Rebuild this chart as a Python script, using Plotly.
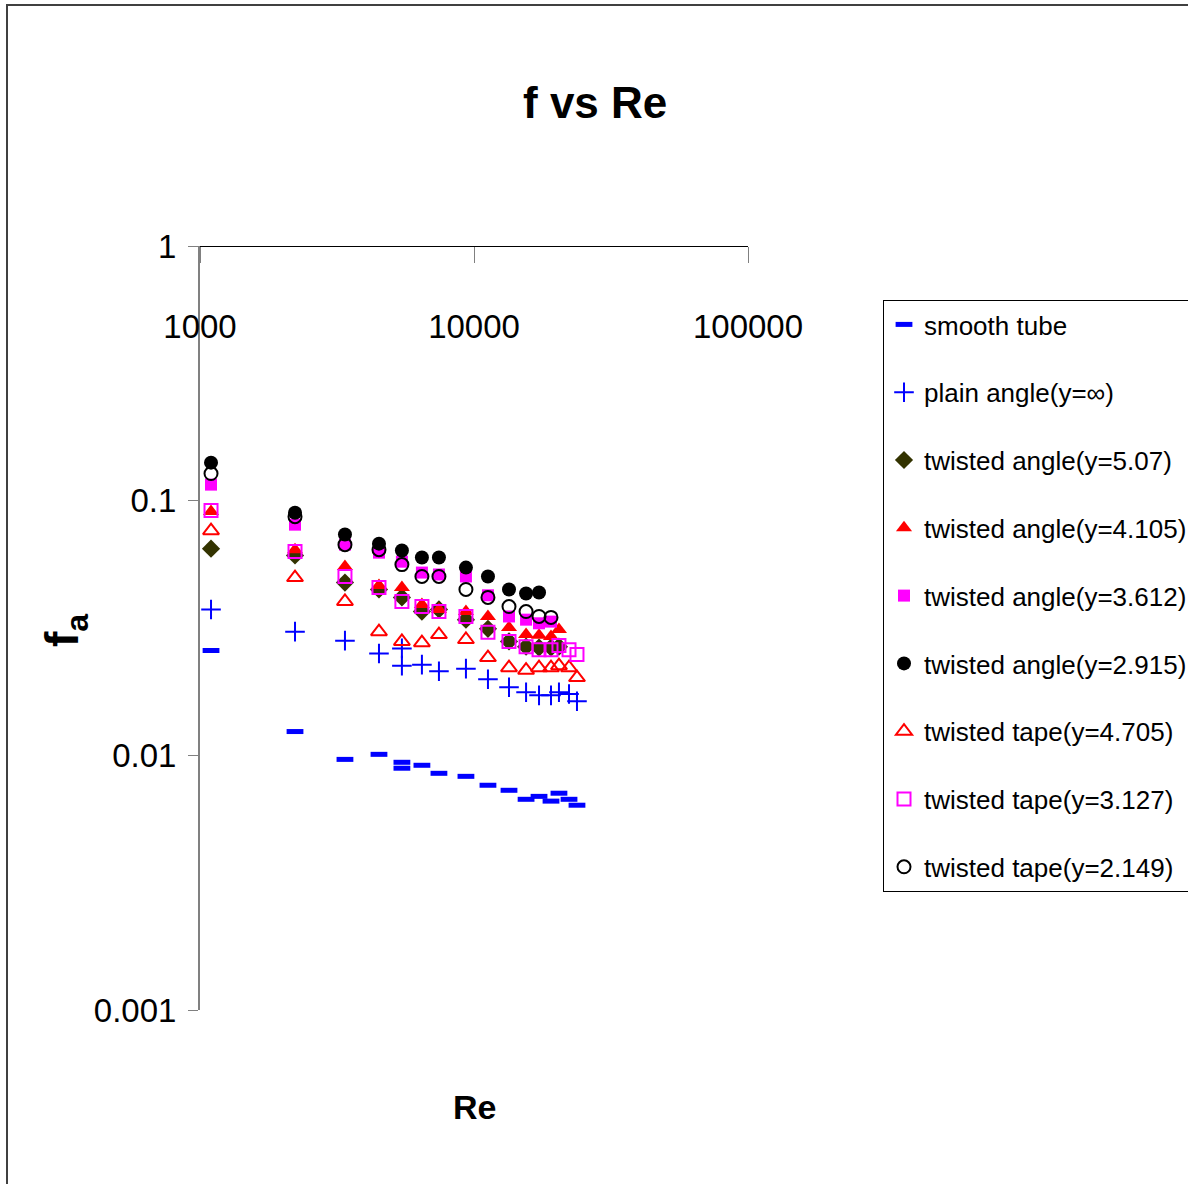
import plotly.graph_objects as go

# ---------------- data ----------------
re_17 = [1097, 2222, 3381, 4500, 5456, 5456, 6455, 7448, 9345, 11245, 13420, 15490, 17270, 19100, 20420, 22220, 23760]
re_16 = [1097, 2222, 3381, 4500, 5456, 6455, 7448, 9345, 11245, 13420, 15490, 17270, 19100, 20420, 22220, 23760]

smooth_tube = [0.0258, 0.0124, 0.00964, 0.01009, 0.00939, 0.00890, 0.00914, 0.00850, 0.00827, 0.00763,
               0.00729, 0.00672, 0.00690, 0.00661, 0.00710, 0.00672, 0.00637]
plain_angle = [0.0374, 0.0306, 0.0282, 0.0251, 0.0263, 0.0225, 0.0227, 0.0214, 0.0219, 0.0199,
               0.0185, 0.0177, 0.0172, 0.0172, 0.0177, 0.0174, 0.0163]
tw_angle_507 = [0.0648, 0.0609, 0.0477, 0.0448, 0.0417, 0.0367, 0.0374, 0.0341, 0.0314, 0.0280,
                0.0267, 0.0265, 0.0265, 0.0267]
tw_angle_4105 = [0.0906, 0.0642, 0.0551, 0.0464, 0.0456, 0.0391, 0.0374, 0.0367, 0.0351, 0.0318,
                 0.0298, 0.0296, 0.0293, 0.0312]
tw_angle_3612 = [0.1156, 0.0805, 0.0672, 0.0625, 0.0576, 0.0522, 0.0513, 0.0504, 0.0425, 0.0351,
                 0.0341, 0.0330, 0.0335]
tw_angle_2915 = [0.141, 0.0897, 0.0736, 0.0678, 0.0637, 0.0598, 0.0598, 0.0546, 0.0504, 0.0448,
                 0.0432, 0.0436]
tw_tape_4705 = [0.0762, 0.0499, 0.0402, 0.0306, 0.0280, 0.0277, 0.0298, 0.0285, 0.0242, 0.0221,
                0.0216, 0.0221, 0.0221, 0.0225, 0.0221, 0.0202]
tw_tape_3127 = [0.0914, 0.0631, 0.0504, 0.0456, 0.0402, 0.0384, 0.0367, 0.0351, 0.0304, 0.0280,
                0.0267, 0.0260, 0.0260, 0.0270, 0.0260, 0.0249]
tw_tape_2149 = [0.1278, 0.0865, 0.0672, 0.0642, 0.0561, 0.0504, 0.0504, 0.0448, 0.0417, 0.0384,
                0.0367, 0.0351, 0.0348]

x_tickvals = [1000, 10000, 100000]
x_ticktext = ["1000", "10000", "100000"]
y_tickvals = [0.001, 0.01, 0.1, 1]
y_ticktext = ["0.001", "0.01", "0.1", "1"]

series = [
    ("smooth tube", re_17, smooth_tube, dict(symbol="line-ew", size=12, color="#0000FF",
                                             line=dict(color="#0000FF", width=5))),
    ("plain angle(y=\u221e)", re_17, plain_angle, dict(symbol="cross-thin", size=14, color="#0000FF",
                                                       line=dict(color="#0000FF", width=2))),
    ("twisted angle(y=5.07)", re_16[:14], tw_angle_507, dict(symbol="diamond", size=14, color="#333300")),
    ("twisted angle(y=4.105)", re_16[:14], tw_angle_4105, dict(symbol="triangle-up", size=14, color="#FF0000")),
    ("twisted angle(y=3.612)", re_16[:13], tw_angle_3612, dict(symbol="square", size=12, color="#FF00FF")),
    ("twisted angle(y=2.915)", re_16[:12], tw_angle_2915, dict(symbol="circle", size=14, color="#000000")),
    ("twisted tape(y=4.705)", re_16, tw_tape_4705, dict(symbol="triangle-up-open", size=14, color="#FF0000",
                                                       line=dict(width=2))),
    ("twisted tape(y=3.127)", re_16, tw_tape_3127, dict(symbol="square-open", size=13, color="#FF00FF",
                                                       line=dict(width=2))),
    ("twisted tape(y=2.149)", re_16[:13], tw_tape_2149, dict(symbol="circle-open", size=13, color="#000000",
                                                            line=dict(width=2))),
]

FONT = "Liberation Sans, Arial, sans-serif"
W, H = 1188, 1184

fig = go.Figure()
for i, (name, xs, ys, mk) in enumerate(series):
    fig.add_trace(go.Scatter(x=xs, y=ys, mode="markers", name=name, marker=mk,
                             legendgroup="g%d" % i))

fig.update_layout(
    width=W, height=H,
    margin=dict(l=0, r=0, t=0, b=0, autoexpand=False),
    paper_bgcolor="white", plot_bgcolor="white",
    font=dict(family=FONT, color="black", size=33),
    showlegend=True,
    legend=dict(x=883 / W, y=1 - 300 / H, xanchor="left", yanchor="top",
                bgcolor="white", bordercolor="black", borderwidth=1,
                font=dict(family=FONT, size=26, color="black"),
                tracegroupgap=31, itemwidth=30),
    xaxis=dict(type="log", range=[3, 5], domain=[200 / W, 748 / W],
               anchor="free", position=1 - 246 / H, side="bottom", automargin=False,
               tickvals=x_tickvals, ticktext=x_ticktext,
               ticks="outside", ticklen=16, tickcolor="#808080", tickwidth=1,
               ticklabelstandoff=35,
               showline=True, linecolor="black", linewidth=1,
               showgrid=False, zeroline=False,
               tickfont=dict(family=FONT, size=33, color="black")),
    yaxis=dict(type="log", range=[-3, 0], domain=[1 - 1010 / H, 1 - 246 / H], automargin=False,
               tickvals=y_tickvals, ticktext=y_ticktext,
               ticks="outside", ticklen=10, tickcolor="#808080", tickwidth=1,
               ticklabelstandoff=5,
               showline=True, linecolor="#808080", linewidth=2,
               showgrid=False, zeroline=False,
               tickfont=dict(family=FONT, size=33, color="black")),
    annotations=[
        dict(text="<b>f vs Re</b>", x=595 / W, y=1 - 103 / H, xref="paper", yref="paper",
             showarrow=False, xanchor="center", yanchor="middle",
             font=dict(family=FONT, size=44, color="black")),
        dict(text="<b>Re</b>", x=474 / W, y=1 - 1107 / H, xref="paper", yref="paper",
             showarrow=False, xanchor="center", yanchor="middle",
             font=dict(family=FONT, size=34, color="black")),
        dict(text="<b>f<sub>a</sub></b>", x=65 / W, y=1 - 630 / H, xref="paper", yref="paper",
             showarrow=False, xanchor="center", yanchor="middle", textangle=-90,
             font=dict(family=FONT, size=46, color="black")),
    ],
    shapes=[
        dict(type="rect", xref="paper", yref="paper", x0=7 / W, x1=1.05, y0=-0.05, y1=1 - 5 / H,
             line=dict(color="#404040", width=2), fillcolor="rgba(0,0,0,0)", layer="below"),
    ],
)

fig.write_html("out.html", config={"displayModeBar": False},
               post_script="document.body.style.margin='0';document.body.style.overflow='hidden';")
